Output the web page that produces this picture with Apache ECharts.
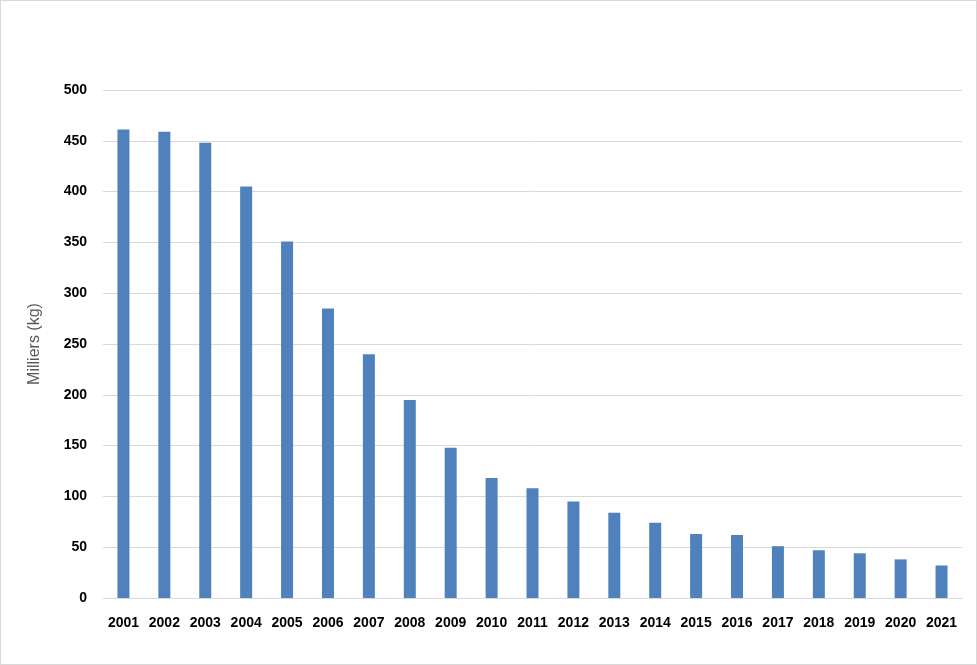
<!DOCTYPE html>
<html>
<head>
<meta charset="utf-8">
<script src="https://cdn.jsdelivr.net/npm/echarts@6/dist/echarts.min.js"></script>
<style>
  html, body { margin: 0; padding: 0; background: #fff; }
  #chart { width: 975px; height: 663px; border: 1px solid #d9d9d9; }
</style>
</head>
<body>
<div id="chart"></div>
<script>
  // années et tonnages (milliers de kg)
  var years = ['2001', '2002', '2003', '2004', '2005', '2006', '2007', '2008', '2009', '2010', '2011',
               '2012', '2013', '2014', '2015', '2016', '2017', '2018', '2019', '2020', '2021'];
  var values = [461, 459, 448, 405, 351, 285, 240, 195, 148, 118, 108,
                95, 84, 74, 63, 62, 51, 47, 44, 38, 32];

  var chart = echarts.init(document.getElementById('chart'));
  var option = {
    animation: false,
    grid: { left: 102, right: 14, top: 89, bottom: 66 },
    xAxis: {
      type: 'category',
      data: years,
      axisTick: { show: false },
      axisLine: { lineStyle: { color: '#d9d9d9' } },
      axisLabel: { color: '#000', fontWeight: 'bold', fontSize: 14, fontFamily: 'Liberation Sans', margin: 18 }
    },
    yAxis: {
      type: 'value',
      min: 0,
      max: 500,
      interval: 50,
      name: 'Milliers (kg)',
      nameLocation: 'middle',
      nameGap: 60,
      nameTextStyle: { color: '#595959', fontSize: 16, fontFamily: 'Liberation Sans' },
      axisLabel: { color: '#000', fontWeight: 'bold', fontSize: 14, fontFamily: 'Liberation Sans', margin: 16 },
      splitLine: { lineStyle: { color: '#d9d9d9' } }
    },
    series: [{
      type: 'bar',
      data: values,
      barWidth: 12,
      itemStyle: { color: '#4f81bd' }
    }]
  };
  chart.setOption(option);
</script>
</body>
</html>
